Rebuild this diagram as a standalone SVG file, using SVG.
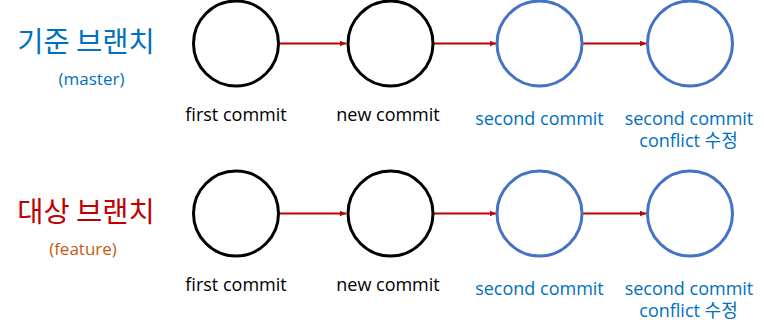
<svg xmlns="http://www.w3.org/2000/svg" width="764" height="331" viewBox="0 0 764 331">
  <style>
    .c-black { fill: #ffffff; stroke: #000000; stroke-width: 3; }
    .c-blue { fill: #ffffff; stroke: #4472C4; stroke-width: 3; }
    .conn { stroke: #C00000; stroke-width: 1.8; fill: none; marker-end: url(#arrow); }
    .lbl { font-family: "Open Sans", "Noto Sans CJK KR", sans-serif; font-size: 18px; text-anchor: middle; }
    .blk { fill: #000000; }
    .blu { fill: #0070C0; }
    .title { font-family: "Noto Sans CJK KR", sans-serif; font-size: 28.5px; text-anchor: middle; }
    .sub { font-family: "Open Sans", "Noto Sans CJK KR", sans-serif; font-size: 17px; text-anchor: middle; }
  </style>
  <defs>
    <marker id="arrow" markerUnits="userSpaceOnUse" markerWidth="7" markerHeight="7" refX="6.5" refY="3.5" orient="auto">
      <path d="M0,0.5 L6.5,3.5 L0,6.5 z" fill="#C00000"/>
    </marker>
  </defs>
  <rect width="764" height="331" fill="#ffffff"/>

  <g id="title-master">
    <text class="title" x="86" y="52" fill="#0070C0">기준 브랜치</text>
    <text class="sub" x="91.5" y="85" fill="#0070C0">(master)</text>
  </g>
  <g id="title-feature">
    <text class="title" x="86" y="222" fill="#C00000">대상 브랜치</text>
    <text class="sub" x="83" y="255" fill="#C55A11">(feature)</text>
  </g>

  <g id="connectors">
    <line class="conn" x1="280" y1="43.5" x2="346" y2="43.5"/>
    <line class="conn" x1="434" y1="43.5" x2="496" y2="43.5"/>
    <line class="conn" x1="583" y1="43.5" x2="646" y2="43.5"/>
    <line class="conn" x1="280" y1="213.5" x2="346" y2="213.5"/>
    <line class="conn" x1="434" y1="213.5" x2="496" y2="213.5"/>
    <line class="conn" x1="583" y1="213.5" x2="646" y2="213.5"/>
  </g>

  <g id="m1">
    <circle class="c-black" cx="236" cy="43.5" r="42.5"/>
    <text class="lbl blk" x="236" y="121">first commit</text>
  </g>
  <g id="m2">
    <circle class="c-black" cx="390.5" cy="43.5" r="42.5"/>
    <text class="lbl blk" x="388" y="121">new commit</text>
  </g>
  <g id="m3">
    <circle class="c-blue" cx="539.5" cy="43.5" r="42.5"/>
    <text class="lbl blu" x="539.5" y="124.5">second commit</text>
  </g>
  <g id="m4">
    <circle class="c-blue" cx="690" cy="43.5" r="42.5"/>
    <text class="lbl blu" x="689" y="124.5">second commit</text>
    <text class="lbl blu" x="688.5" y="146.5">conflict 수정</text>
  </g>

  <g id="f1">
    <circle class="c-black" cx="236" cy="213.5" r="42.5"/>
    <text class="lbl blk" x="236" y="291">first commit</text>
  </g>
  <g id="f2">
    <circle class="c-black" cx="390.5" cy="213.5" r="42.5"/>
    <text class="lbl blk" x="388" y="291">new commit</text>
  </g>
  <g id="f3">
    <circle class="c-blue" cx="539.5" cy="213.5" r="42.5"/>
    <text class="lbl blu" x="539.5" y="294.5">second commit</text>
  </g>
  <g id="f4">
    <circle class="c-blue" cx="690" cy="213.5" r="42.5"/>
    <text class="lbl blu" x="689" y="294.5">second commit</text>
    <text class="lbl blu" x="688.5" y="316.5">conflict 수정</text>
  </g>
</svg>
